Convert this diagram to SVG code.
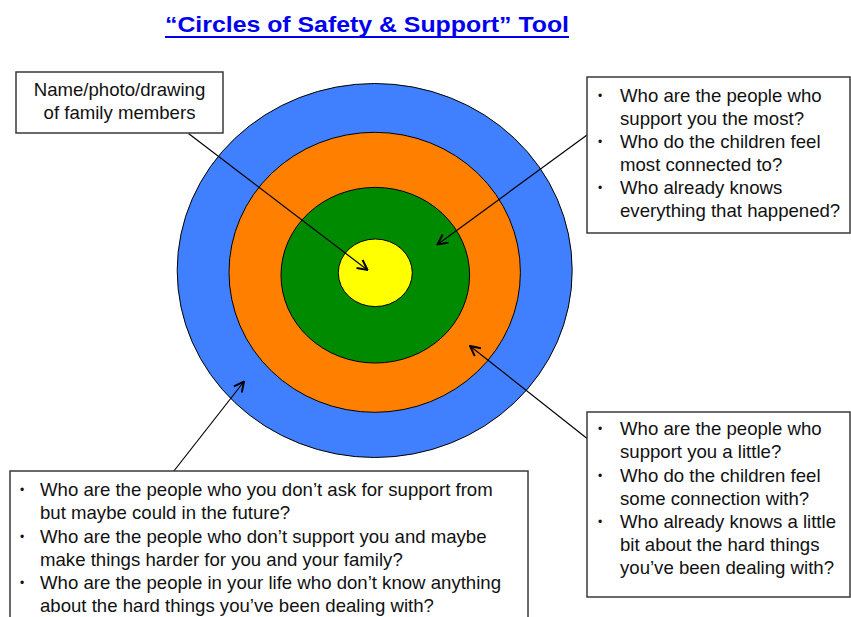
<svg xmlns="http://www.w3.org/2000/svg" width="851" height="617" viewBox="0 0 851 617">
<style>
  .box { fill: #ffffff; stroke: #3a3a3a; stroke-width: 1.5; }
  .t { font-family: "Liberation Sans", Arial, sans-serif; font-size: 18.6px; fill: #111111; }
  .b { font-family: "Liberation Sans", Arial, sans-serif; font-size: 12px; fill: #111111; }
  .ring { stroke: #000000; stroke-width: 1; }
  .conn { stroke: #000000; stroke-width: 1.2; fill: none; marker-end: url(#arr); }
  .title { font-family: "Liberation Sans", Arial, sans-serif; font-size: 22.5px; font-weight: bold; fill: #0000ee; }
</style>
<defs>
  <marker id="arr" viewBox="0 0 12 12" refX="11" refY="6" markerWidth="12" markerHeight="12" markerUnits="userSpaceOnUse" orient="auto">
    <path d="M1,1 L11,6 L1,11" fill="none" stroke="#000000" stroke-width="2"/>
  </marker>
</defs>
<rect width="851" height="617" fill="#ffffff"/>

<g id="title">
  <text class="title" x="367" y="32" text-anchor="middle" textLength="404" lengthAdjust="spacingAndGlyphs">“Circles of Safety &amp; Support” Tool</text>
  <line x1="165" y1="37" x2="569" y2="37" stroke="#0000ee" stroke-width="2"/>
</g>

<g id="circles">
  <ellipse id="outer-ring" class="ring" cx="374.7" cy="270.5" rx="197.5" ry="187" fill="#4080ff"/>
  <ellipse id="orange-ring" class="ring" cx="374.7" cy="272.3" rx="145.7" ry="140" fill="#ff7f00"/>
  <ellipse id="green-ring" class="ring" cx="375.3" cy="275.2" rx="94.3" ry="87.8" fill="#008a00"/>
  <ellipse id="center" class="ring" cx="375.3" cy="272.8" rx="37" ry="33.8" fill="#ffff00"/>
</g>

<g id="connectors">
  <line class="conn" x1="188.5" y1="133.5" x2="367.5" y2="270"/>
  <line class="conn" x1="587" y1="135" x2="437.5" y2="244.5"/>
  <line class="conn" x1="589" y1="440" x2="470" y2="346"/>
  <line class="conn" x1="173.5" y1="471.5" x2="244" y2="381.5"/>
</g>

<g id="box-name">
  <rect class="box" x="16" y="72" width="207" height="61"/>
  <text class="t" x="119.5" y="96" text-anchor="middle">Name/photo/drawing</text>
  <text class="t" x="119.5" y="119" text-anchor="middle">of family members</text>
</g>

<g id="box-inner">
  <rect class="box" x="587" y="77" width="263" height="156"/>
  <text class="b" x="598" y="100">•</text>
  <text class="t" x="620" y="102">Who are the people who</text>
  <text class="t" x="620" y="125">support you the most?</text>
  <text class="b" x="598" y="146">•</text>
  <text class="t" x="620" y="148">Who do the children feel</text>
  <text class="t" x="620" y="171">most connected to?</text>
  <text class="b" x="598" y="192">•</text>
  <text class="t" x="620" y="194">Who already knows</text>
  <text class="t" x="620" y="217">everything that happened?</text>
</g>

<g id="box-middle">
  <rect class="box" x="587" y="412" width="263" height="185"/>
  <text class="b" x="598" y="433">•</text>
  <text class="t" x="620" y="435">Who are the people who</text>
  <text class="t" x="620" y="458">support you a little?</text>
  <text class="b" x="598" y="479.5">•</text>
  <text class="t" x="620" y="481.5">Who do the children feel</text>
  <text class="t" x="620" y="504.5">some connection with?</text>
  <text class="b" x="598" y="526">•</text>
  <text class="t" x="620" y="528">Who already knows a little</text>
  <text class="t" x="620" y="551">bit about the hard things</text>
  <text class="t" x="620" y="574">you’ve been dealing with?</text>
</g>

<g id="box-outer">
  <rect class="box" x="10" y="471" width="518" height="170"/>
  <text class="b" x="20" y="494">•</text>
  <text class="t" x="40" y="496">Who are the people who you don’t ask for support from</text>
  <text class="t" x="40" y="519">but maybe could in the future?</text>
  <text class="b" x="20" y="541">•</text>
  <text class="t" x="40" y="543">Who are the people who don’t support you and maybe</text>
  <text class="t" x="40" y="566">make things harder for you and your family?</text>
  <text class="b" x="20" y="587">•</text>
  <text class="t" x="40" y="589">Who are the people in your life who don’t know anything</text>
  <text class="t" x="40" y="612">about the hard things you’ve been dealing with?</text>
</g>
</svg>
